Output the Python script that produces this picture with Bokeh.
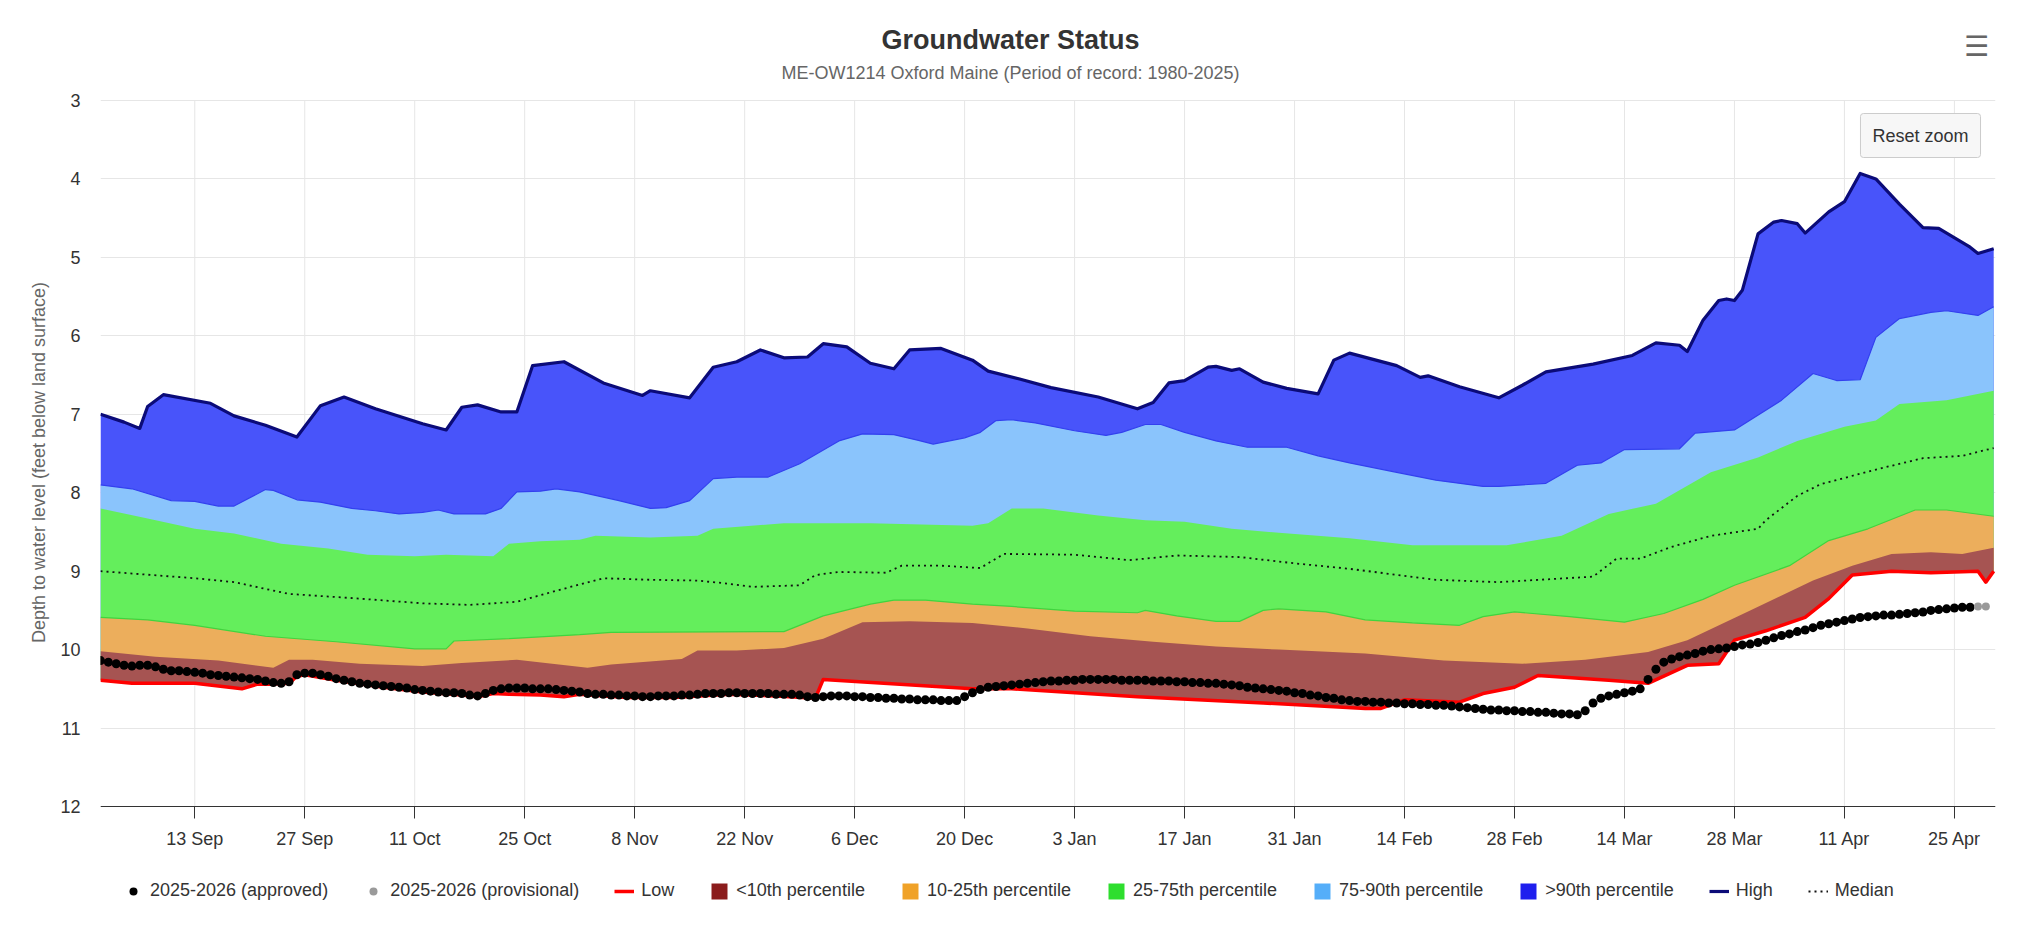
import numpy as np
import pandas as pd
from bokeh.plotting import figure
from bokeh.models import (Range1d, FixedTicker, CustomJSTickFormatter, Legend,
                          LegendItem, Label)
from bokeh.embed import file_html
from bokeh.resources import INLINE

FONT = "Liberation Sans"

# ---------------- data (depth to water, feet below land surface) ----------------
high_dates = ["2025-09-01","2025-09-04","2025-09-06","2025-09-07","2025-09-09","2025-09-15","2025-09-18","2025-09-22","2025-09-26","2025-09-29",
              "2025-10-02","2025-10-06","2025-10-12","2025-10-15","2025-10-17","2025-10-19","2025-10-22","2025-10-24","2025-10-26","2025-10-30",
              "2025-11-04","2025-11-09","2025-11-10","2025-11-15","2025-11-18","2025-11-21","2025-11-24","2025-11-27","2025-11-30",
              "2025-12-02","2025-12-05","2025-12-08","2025-12-11","2025-12-13","2025-12-17","2025-12-21","2025-12-23","2025-12-27","2025-12-31",
              "2026-01-06","2026-01-11","2026-01-13","2026-01-15","2026-01-17","2026-01-20","2026-01-21","2026-01-23","2026-01-24","2026-01-27","2026-01-30",
              "2026-02-03","2026-02-05","2026-02-07","2026-02-13","2026-02-16","2026-02-17","2026-02-21","2026-02-26",
              "2026-03-01","2026-03-04","2026-03-10","2026-03-15","2026-03-18","2026-03-21","2026-03-22","2026-03-24","2026-03-26","2026-03-27","2026-03-28","2026-03-29","2026-03-31",
              "2026-04-02","2026-04-03","2026-04-05","2026-04-06","2026-04-09","2026-04-11","2026-04-13","2026-04-15","2026-04-18","2026-04-21","2026-04-23","2026-04-27","2026-04-28","2026-04-30"]
high_vals = [7.00,7.10,7.18,6.90,6.75,6.86,7.02,7.14,7.29,6.89,
             6.78,6.93,7.12,7.20,6.91,6.88,6.97,6.97,6.38,6.33,
             6.60,6.76,6.70,6.79,6.40,6.33,6.18,6.28,6.27,
             6.10,6.14,6.35,6.42,6.18,6.16,6.31,6.45,6.55,6.66,
             6.78,6.93,6.85,6.60,6.57,6.40,6.39,6.44,6.42,6.59,6.67,
             6.74,6.31,6.22,6.38,6.53,6.51,6.65,6.79,
             6.63,6.46,6.36,6.25,6.09,6.12,6.20,5.80,5.55,5.53,5.55,5.42,4.70,
             4.55,4.53,4.57,4.69,4.42,4.29,3.93,4.00,4.32,4.62,4.63,4.87,4.95,4.89]

p90_dates = ["2025-09-01","2025-09-05","2025-09-10","2025-09-13","2025-09-16","2025-09-18","2025-09-22","2025-09-23","2025-09-26","2025-09-29",
             "2025-10-03","2025-10-06","2025-10-09","2025-10-12","2025-10-14","2025-10-16","2025-10-20","2025-10-22","2025-10-24","2025-10-27","2025-10-29",
             "2025-11-01","2025-11-06","2025-11-10","2025-11-12","2025-11-15","2025-11-18","2025-11-21","2025-11-25","2025-11-29",
             "2025-12-04","2025-12-07","2025-12-11","2025-12-14","2025-12-16","2025-12-20","2025-12-22","2025-12-24","2025-12-26","2025-12-29",
             "2026-01-03","2026-01-07","2026-01-09","2026-01-12","2026-01-14","2026-01-17","2026-01-21","2026-01-25","2026-01-30",
             "2026-02-03","2026-02-07","2026-02-13","2026-02-18","2026-02-24","2026-02-26",
             "2026-03-04","2026-03-08","2026-03-11","2026-03-14","2026-03-21","2026-03-23","2026-03-28",
             "2026-04-03","2026-04-07","2026-04-10","2026-04-13","2026-04-15","2026-04-18","2026-04-22","2026-04-24","2026-04-28","2026-04-30"]
p90_vals = [7.90,7.95,8.10,8.11,8.17,8.17,7.96,7.97,8.09,8.12,
            8.20,8.23,8.27,8.25,8.22,8.27,8.27,8.20,7.99,7.98,7.95,
            7.99,8.10,8.20,8.19,8.10,7.82,7.80,7.80,7.63,
            7.34,7.25,7.26,7.33,7.38,7.30,7.23,7.08,7.07,7.11,
            7.21,7.27,7.23,7.13,7.13,7.23,7.34,7.42,7.42,
            7.53,7.62,7.74,7.84,7.92,7.92,
            7.88,7.65,7.62,7.45,7.44,7.24,7.20,
            6.82,6.48,6.57,6.56,6.02,5.78,5.70,5.68,5.74,5.63]

p75_dates = ["2025-09-01","2025-09-07","2025-09-13","2025-09-18","2025-09-24","2025-09-30",
             "2025-10-05","2025-10-11","2025-10-15","2025-10-21","2025-10-23","2025-10-27",
             "2025-11-01","2025-11-03","2025-11-10","2025-11-16","2025-11-18","2025-11-27",
             "2025-12-08","2025-12-21","2025-12-23","2025-12-26","2025-12-30",
             "2026-01-06","2026-01-12","2026-01-17","2026-01-23","2026-01-29",
             "2026-02-07","2026-02-15","2026-02-27",
             "2026-03-06","2026-03-12","2026-03-18","2026-03-25","2026-03-31",
             "2026-04-05","2026-04-11","2026-04-15","2026-04-18","2026-04-24","2026-04-30"]
p75_vals = [8.20,8.33,8.46,8.52,8.65,8.71,
            8.79,8.81,8.79,8.81,8.65,8.62,
            8.60,8.55,8.57,8.55,8.46,8.39,
            8.39,8.42,8.39,8.20,8.20,
            8.29,8.35,8.37,8.46,8.51,
            8.58,8.67,8.67,
            8.55,8.27,8.14,7.74,7.55,
            7.34,7.16,7.08,6.87,6.82,6.70]

median_dates = ["2025-09-01","2025-09-13","2025-09-18","2025-09-25",
                "2025-10-04","2025-10-12","2025-10-18","2025-10-24","2025-10-29",
                "2025-11-04","2025-11-10","2025-11-16","2025-11-19","2025-11-23","2025-11-29",
                "2025-12-01","2025-12-04","2025-12-10","2025-12-12","2025-12-17","2025-12-22","2025-12-25",
                "2026-01-03","2026-01-10","2026-01-16","2026-01-24","2026-01-31",
                "2026-02-07","2026-02-18","2026-02-26",
                "2026-03-10","2026-03-13","2026-03-16","2026-03-20","2026-03-25","2026-03-31",
                "2026-04-01","2026-04-05","2026-04-08","2026-04-16","2026-04-21","2026-04-26","2026-04-30"]
median_vals = [9.00,9.09,9.14,9.29,
               9.35,9.41,9.43,9.39,9.25,
               9.09,9.11,9.12,9.15,9.20,9.18,
               9.05,9.01,9.02,8.93,8.93,8.96,8.78,
               8.79,8.86,8.80,8.82,8.90,
               8.97,9.11,9.14,
               9.07,8.84,8.84,8.69,8.55,8.46,
               8.35,8.04,7.89,7.68,7.56,7.53,7.43]

p25_dates = ["2025-09-01","2025-09-07","2025-09-13","2025-09-22",
             "2025-10-01","2025-10-11","2025-10-15","2025-10-16","2025-10-23",
             "2025-11-01","2025-11-05","2025-11-27",
             "2025-12-02","2025-12-08","2025-12-11","2025-12-15","2025-12-21","2025-12-26",
             "2026-01-03","2026-01-11","2026-01-12","2026-01-16","2026-01-21","2026-01-24","2026-01-27","2026-01-29",
             "2026-02-04","2026-02-09","2026-02-15","2026-02-21","2026-02-24","2026-02-28",
             "2026-03-07","2026-03-14","2026-03-19","2026-03-24","2026-03-28",
             "2026-04-04","2026-04-09","2026-04-14","2026-04-20","2026-04-24","2026-04-30"]
p25_vals = [9.59,9.62,9.69,9.83,
            9.90,9.99,9.99,9.89,9.86,
            9.81,9.78,9.77,
            9.57,9.42,9.37,9.37,9.42,9.45,
            9.51,9.53,9.50,9.57,9.64,9.64,9.50,9.48,
            9.52,9.62,9.66,9.69,9.58,9.52,
            9.58,9.65,9.54,9.36,9.18,
            8.93,8.61,8.46,8.22,8.22,8.30]

p10_dates = ["2025-09-01","2025-09-08","2025-09-16","2025-09-23","2025-09-25","2025-09-28",
             "2025-10-04","2025-10-12","2025-10-17","2025-10-24",
             "2025-11-02","2025-11-05","2025-11-14","2025-11-16","2025-11-21","2025-11-27",
             "2025-12-02","2025-12-07","2025-12-13","2025-12-21","2025-12-28",
             "2026-01-05","2026-01-13","2026-01-21","2026-01-29",
             "2026-02-09","2026-02-19",
             "2026-03-01","2026-03-09","2026-03-17","2026-03-22","2026-03-30",
             "2026-04-07","2026-04-12","2026-04-17","2026-04-22","2026-04-26","2026-04-30"]
p10_vals = [10.02,10.09,10.14,10.23,10.13,10.13,
            10.18,10.21,10.17,10.13,
            10.23,10.19,10.12,10.01,10.01,9.98,
            9.86,9.65,9.64,9.66,9.73,
            9.83,9.90,9.96,10.00,
            10.05,10.14,
            10.18,10.13,10.03,9.88,9.50,
            9.12,8.93,8.78,8.76,8.78,8.70]

low_dates = ["2025-09-01","2025-09-05","2025-09-13","2025-09-19","2025-09-21","2025-09-23","2025-09-25","2025-09-26","2025-09-27",
             "2025-10-01","2025-10-07","2025-10-12","2025-10-17","2025-10-19","2025-10-21","2025-10-23","2025-10-27","2025-10-30",
             "2025-11-01","2025-11-07","2025-11-13","2025-11-20","2025-11-26",
             "2025-12-01","2025-12-02","2025-12-21","2025-12-26",
             "2026-01-11","2026-01-27",
             "2026-02-09","2026-02-11","2026-02-14","2026-02-21","2026-02-24","2026-02-28",
             "2026-03-03","2026-03-12","2026-03-17","2026-03-22","2026-03-26","2026-03-28",
             "2026-04-01","2026-04-06","2026-04-09","2026-04-12","2026-04-17","2026-04-22","2026-04-28","2026-04-29","2026-04-30"]
low_vals = [10.39,10.43,10.43,10.50,10.44,10.44,10.43,10.34,10.32,
            10.39,10.48,10.54,10.58,10.60,10.56,10.57,10.58,10.60,
            10.57,10.61,10.61,10.57,10.59,
            10.62,10.38,10.50,10.50,
            10.60,10.68,
            10.75,10.75,10.64,10.67,10.56,10.48,
            10.33,10.39,10.43,10.20,10.18,9.88,
            9.76,9.59,9.35,9.05,9.00,9.02,9.00,9.14,9.00]

# daily observations starting 2025-09-01
obs_start = "2025-09-01"
obs_approved = [10.14,10.16,10.18,10.20,10.21,10.20,10.20,10.22,10.25,10.27,
                10.27,10.28,10.29,10.30,10.32,10.33,10.34,10.35,10.36,10.37,
                10.38,10.40,10.42,10.43,10.41,10.32,10.30,10.30,10.32,10.34,
                10.37,10.39,10.41,10.43,10.44,10.45,10.46,10.47,10.48,10.49,
                10.51,10.52,10.53,10.54,10.55,10.55,10.56,10.58,10.59,10.56,
                10.52,10.50,10.49,10.49,10.49,10.50,10.50,10.50,10.51,10.52,
                10.53,10.54,10.56,10.57,10.57,10.58,10.58,10.59,10.59,10.60,
                10.60,10.59,10.59,10.59,10.58,10.58,10.57,10.56,10.56,10.56,
                10.55,10.55,10.56,10.56,10.56,10.56,10.57,10.57,10.57,10.58,
                10.60,10.61,10.60,10.59,10.59,10.59,10.60,10.60,10.61,10.61,
                10.62,10.62,10.63,10.63,10.64,10.64,10.64,10.65,10.65,10.65,
                10.60,10.55,10.51,10.48,10.47,10.46,10.45,10.44,10.43,10.42,
                10.41,10.40,10.40,10.39,10.39,10.38,10.38,10.38,10.38,10.38,
                10.39,10.39,10.39,10.39,10.40,10.40,10.40,10.41,10.41,10.42,
                10.42,10.43,10.43,10.44,10.45,10.46,10.48,10.49,10.50,10.51,
                10.52,10.53,10.55,10.56,10.58,10.59,10.61,10.62,10.64,10.65,
                10.66,10.66,10.67,10.67,10.68,10.68,10.69,10.69,10.70,10.70,
                10.71,10.71,10.72,10.73,10.74,10.75,10.76,10.77,10.77,10.78,
                10.78,10.79,10.79,10.80,10.80,10.81,10.82,10.82,10.83,10.78,
                10.68,10.62,10.59,10.57,10.55,10.53,10.50,10.38,10.25,10.16,
                10.12,10.09,10.07,10.05,10.02,10.00,9.99,9.98,9.96,9.94,
                9.93,9.91,9.88,9.85,9.82,9.80,9.77,9.75,9.72,9.69,
                9.67,9.65,9.63,9.61,9.59,9.58,9.57,9.56,9.56,9.55,
                9.54,9.53,9.52,9.50,9.49,9.48,9.47,9.46,9.46]
obs_provisional = [9.45, 9.45]   # the two days after the approved record

x_tick_dates = ["2025-09-13","2025-09-27","2025-10-11","2025-10-25","2025-11-08","2025-11-22",
                "2025-12-06","2025-12-20","2026-01-03","2026-01-17","2026-01-31","2026-02-14",
                "2026-02-28","2026-03-14","2026-03-28","2026-04-11","2026-04-25"]
x_tick_labels = ["13 Sep","27 Sep","11 Oct","25 Oct","8 Nov","22 Nov","6 Dec","20 Dec","3 Jan",
                 "17 Jan","31 Jan","14 Feb","28 Feb","14 Mar","28 Mar","11 Apr","25 Apr"]
y_ticks = [3, 4, 5, 6, 7, 8, 9, 10, 11, 12]

legend_labels = ["2025-2026 (approved)", "2025-2026 (provisional)", "Low", "<10th percentile",
                 "10-25th percentile", "25-75th percentile", "75-90th percentile",
                 ">90th percentile", "High", "Median"]

title_text = "Groundwater Status"
subtitle_text = "ME-OW1214 Oxford Maine (Period of record: 1980-2025)"
y_label_text = "Depth to water level (feet below land surface)"

# ---------------- helpers ----------------
def to_ms(dates):
    return pd.to_datetime(pd.Series(dates)).values.astype("datetime64[ms]").astype("int64").astype(float)

for a, b in [(high_dates, high_vals), (p90_dates, p90_vals), (p75_dates, p75_vals),
             (median_dates, median_vals), (p25_dates, p25_vals), (p10_dates, p10_vals),
             (low_dates, low_vals)]:
    assert len(a) == len(b), (len(a), len(b), a[0])

app_dates = pd.date_range(obs_start, periods=len(obs_approved), freq="D")
prov_dates = pd.date_range(app_dates[-1] + pd.Timedelta(days=1), periods=len(obs_provisional), freq="D")
app_x = to_ms(list(app_dates.strftime("%Y-%m-%d")))
prov_x = to_ms(list(prov_dates.strftime("%Y-%m-%d")))

# ---------------- layout geometry ----------------
# The plotting frame spans the full canvas height; depth 3 sits 100 px from the top and
# depth 12 (the x axis) 806 px from the top, leaving room for titles above and legend below.
W, H = 2020, 924
FRAME_L, FRAME_R = 100, 1995
Y_TOP_PX, Y_BOT_PX = 100, 806
px_per_ft = (Y_BOT_PX - Y_TOP_PX) / (max(y_ticks) - min(y_ticks))
y_top_val = min(y_ticks) - Y_TOP_PX / px_per_ft
y_bot_val = max(y_ticks) + (H - Y_BOT_PX) / px_per_ft

x_start = pd.Timestamp("2025-09-01")
x_end = x_start + pd.Timedelta(hours=241.23 * 24)

p = figure(width=W, height=H, x_axis_type="datetime", output_backend="svg",
           toolbar_location=None, title=None,
           x_range=Range1d(x_start, x_end), y_range=Range1d(y_bot_val, y_top_val),
           min_border_left=FRAME_L, min_border_right=W - FRAME_R, min_border_top=0,
           min_border_bottom=0,
           background_fill_color="white", border_fill_color="white")
p.outline_line_color = None

tick_ms = to_ms(x_tick_dates)

# vertical grid lines, limited to the plotted depth interval
p.xgrid.visible = False
p.segment(x0=tick_ms, y0=[min(y_ticks)] * len(tick_ms), x1=tick_ms, y1=[max(y_ticks)] * len(tick_ms),
          line_color="#e6e6e6", line_width=1)

# bands, each painted from its upper limit down to the record low
low_x = to_ms(low_dates)
low_y = np.array(low_vals)
band_defs = [(high_dates, high_vals, "#4854fa"),
             (p90_dates, p90_vals, "#8ac4fc"),
             (p75_dates, p75_vals, "#64ee5c"),
             (p25_dates, p25_vals, "#ecae5c"),
             (p10_dates, p10_vals, "#a65452")]
for d, v, c in band_defs:
    xs = np.concatenate([to_ms(d), low_x[::-1]])
    ys = np.concatenate([np.array(v, dtype=float), low_y[::-1]])
    p.patch(xs, ys, fill_color=c, line_color=None)

p.line(to_ms(p90_dates), p90_vals, line_color="#3340ee", line_width=1.2)
p.line(to_ms(p25_dates), p25_vals, line_color="#3fd43f", line_width=1.2)

r_med = p.line(to_ms(median_dates), median_vals, line_color="#111111", line_width=1.8,
               line_dash="2 4")
r_low = p.line(low_x, low_vals, line_color="#ff0000", line_width=3.5, line_join="round")
r_high = p.line(to_ms(high_dates), high_vals, line_color="#0b0b78", line_width=3.2,
                line_join="round")
r_app = p.scatter(app_x, obs_approved, size=9, fill_color="black", line_color=None)
r_prov = p.scatter(prov_x, obs_provisional, size=8, fill_color="#9a9a9a", line_color=None)

# legend swatches (saturated series colours; a single NaN row draws nothing in the plot)
def swatch(color):
    return p.quad(left=[np.nan], right=[np.nan], top=[np.nan], bottom=[np.nan],
                  fill_color=color, line_color=None)

sw_lt10 = swatch("#8b1c1c")
sw_10_25 = swatch("#f0a228")
sw_25_75 = swatch("#2ede2e")
sw_75_90 = swatch("#55aef9")
sw_gt90 = swatch("#1f1fee")

renderers = [r_app, r_prov, r_low, sw_lt10, sw_10_25, sw_25_75, sw_75_90, sw_gt90, r_high, r_med]
legend = Legend(items=[LegendItem(label=l, renderers=[r]) for l, r in zip(legend_labels, renderers)],
                orientation="horizontal", location="bottom_left",
                border_line_color=None, background_fill_alpha=0,
                padding=0, margin=23, spacing=35, glyph_width=20, glyph_height=20,
                label_standoff=7, label_text_font=FONT, label_text_font_size="18px",
                label_text_color="#333333")
p.add_layout(legend, "center")

# axes
xa = p.xaxis[0]
xa.fixed_location = max(y_ticks)
xa.ticker = FixedTicker(ticks=list(tick_ms))
xa.formatter = CustomJSTickFormatter(args=dict(tvals=list(tick_ms), tlabels=x_tick_labels), code="""
let best = 0, bd = Infinity;
for (let i = 0; i < tvals.length; i++) {
  const d = Math.abs(tvals[i] - tick);
  if (d < bd) { bd = d; best = i; }
}
return tlabels[best];
""")
xa.axis_line_color = "#333333"
xa.major_tick_line_color = "#333333"
xa.major_tick_out = 12
xa.major_tick_in = 0
xa.minor_tick_line_color = None
xa.major_label_text_font = FONT
xa.major_label_text_font_size = "18px"
xa.major_label_text_color = "#333333"
xa.major_label_standoff = 10

ya = p.yaxis[0]
ya.ticker = FixedTicker(ticks=y_ticks)
ya.axis_line_color = None
ya.major_tick_line_color = None
ya.minor_tick_line_color = None
ya.major_tick_out = 0
ya.major_tick_in = 0
ya.major_label_standoff = 20
ya.major_label_text_font = FONT
ya.major_label_text_font_size = "18px"
ya.major_label_text_color = "#333333"
ya.axis_label = y_label_text
ya.axis_label_text_font = FONT
ya.axis_label_text_font_size = "18px"
ya.axis_label_text_font_style = "normal"
ya.axis_label_text_color = "#666666"
ya.axis_label_standoff = 8

p.ygrid.ticker = FixedTicker(ticks=y_ticks)
p.ygrid.grid_line_color = "#e6e6e6"
p.ygrid.grid_line_width = 1

# chart title and subtitle (screen units measured from the frame's bottom-left corner)
cx = 1010 - FRAME_L
p.add_layout(Label(x=cx, y=H - 39, x_units="screen", y_units="screen", text=title_text,
                   text_align="center", text_baseline="middle", text_font=FONT,
                   text_font_size="27px", text_font_style="bold", text_color="#333333"))
p.add_layout(Label(x=cx, y=H - 72, x_units="screen", y_units="screen", text=subtitle_text,
                   text_align="center", text_baseline="middle", text_font=FONT,
                   text_font_size="18px", text_color="#666666"))

# chart UI decorations
p.add_layout(Label(x=1920 - FRAME_L, y=H - 135, x_units="screen", y_units="screen",
                   text="Reset zoom",
                   text_align="center", text_baseline="middle", text_font=FONT,
                   text_font_size="18px", text_color="#333333",
                   background_fill_color="#f7f7f7", border_line_color="#cccccc",
                   padding=12, border_radius=3))
p.add_layout(Label(x=1976 - FRAME_L, y=H - 46, x_units="screen", y_units="screen",
                   text="\u2630",
                   text_align="center", text_baseline="middle", text_font="DejaVu Sans",
                   text_font_size="28px", text_color="#666666"))

open("out.html", "w").write(file_html(p, INLINE))
